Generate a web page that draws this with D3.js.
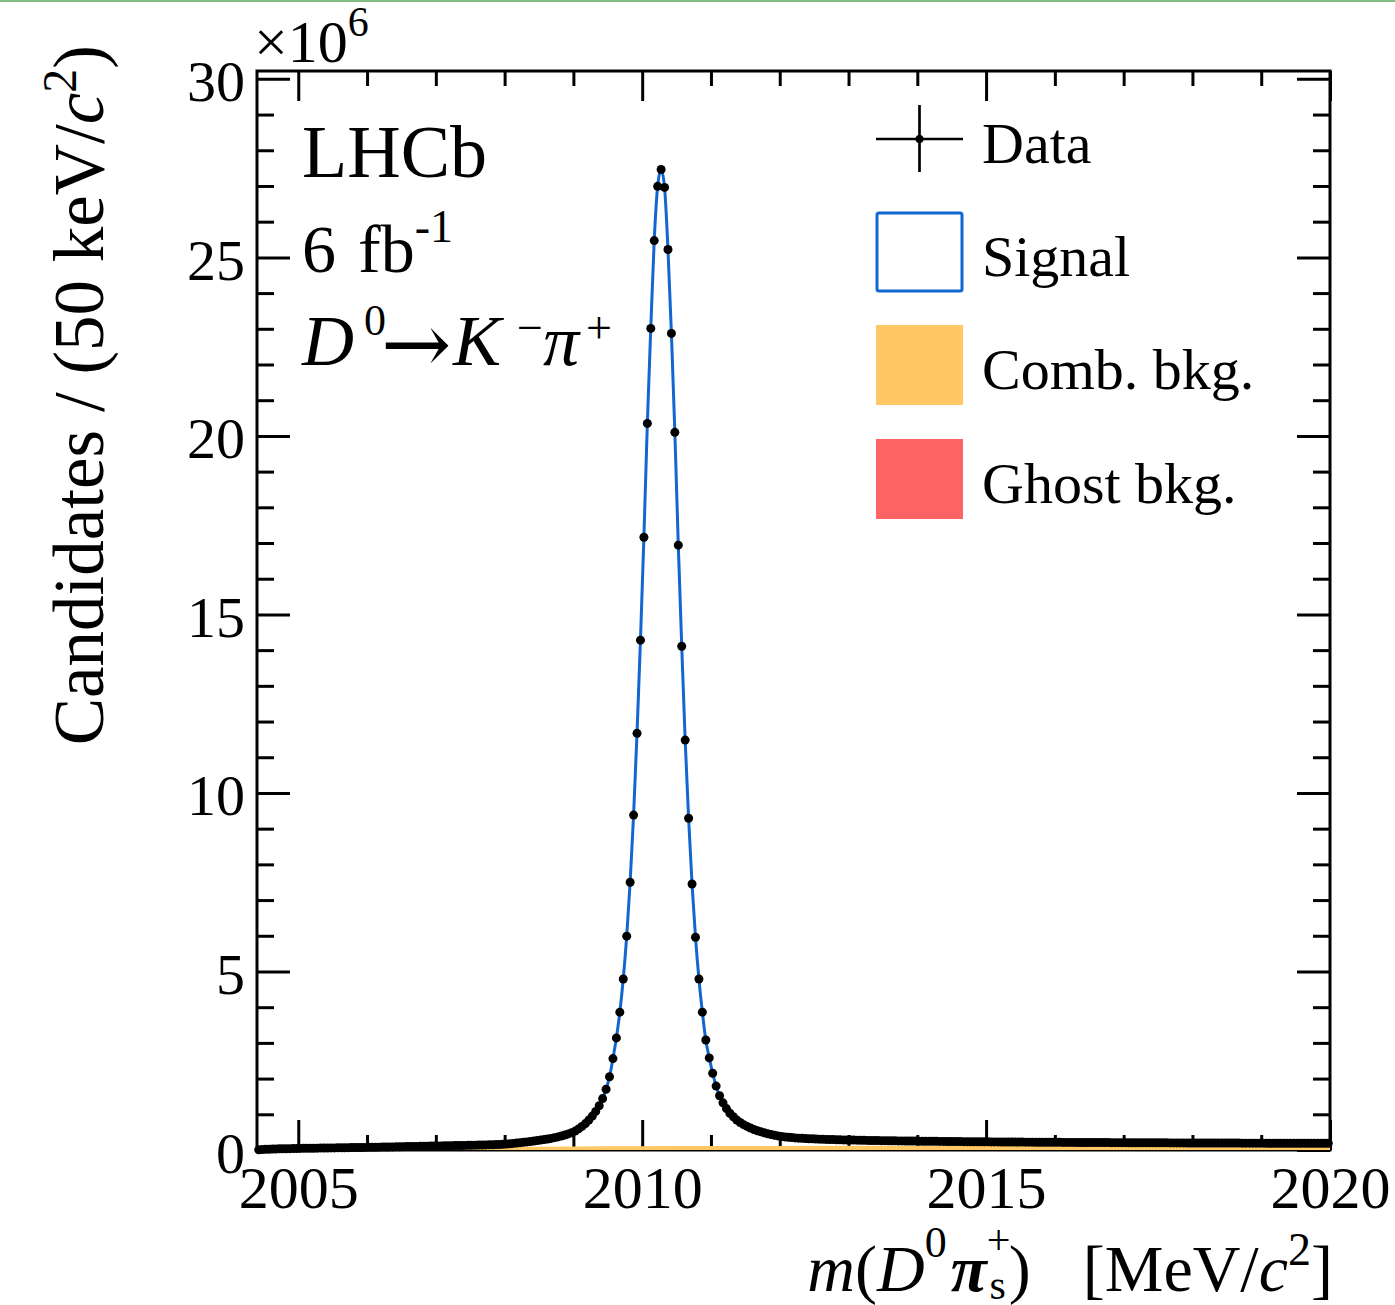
<!DOCTYPE html>
<html>
<head>
<meta charset="utf-8">
<script src="https://cdn.jsdelivr.net/npm/d3@7"></script>
<style>
  body { margin: 0; background: white; }
  svg { display: block; }
  text { font-family: "Liberation Serif", "Times New Roman", serif; fill: black; }
</style>
</head>
<body>
<svg class="mass-plot"></svg>
<script>
const width = 1395;
const height = 1305;
const frame = { left: 257, right: 1330, top: 71, bottom: 1150 };

// m(D0 pi_s+) binning: 50 keV bins starting at threshold
const massLow = 2004.4;
const massHigh = 2020.0;
const binWidth = 0.05;

// candidates per bin, in units of 1e6
const candidates = [
  0.005, 0.012, 0.018, 0.022, 0.026, 0.029, 0.032, 0.034, 0.036, 0.038, 0.040,
  0.042, 0.044, 0.046, 0.047, 0.049, 0.050, 0.052, 0.053, 0.055, 0.056,
  0.058, 0.059, 0.061, 0.062, 0.064, 0.065, 0.067, 0.068, 0.070, 0.071,
  0.073, 0.074, 0.076, 0.078, 0.079, 0.081, 0.083, 0.085, 0.087, 0.089,
  0.091, 0.093, 0.095, 0.097, 0.099, 0.101, 0.103, 0.105, 0.107, 0.109,
  0.111, 0.113, 0.115, 0.117, 0.119, 0.121, 0.123, 0.125, 0.127, 0.129,
  0.131, 0.133, 0.135, 0.137, 0.139, 0.142, 0.145, 0.148, 0.151, 0.155,
  0.159, 0.167, 0.175, 0.185, 0.195, 0.205, 0.215, 0.226, 0.238, 0.250,
  0.263, 0.277, 0.292, 0.308, 0.325, 0.345, 0.367, 0.392, 0.420, 0.450,
  0.484, 0.530, 0.590, 0.660, 0.740, 0.840, 0.950, 1.080, 1.240, 1.440,
  1.700, 2.050, 2.560, 3.140, 3.860, 4.790, 5.990, 7.500, 9.380, 11.67,
  14.28, 17.16, 20.35, 23.01, 25.47, 26.99, 27.46, 26.96, 25.22, 22.87,
  20.10, 16.94, 14.11, 11.48, 9.290, 7.450, 5.960, 4.790, 3.860, 3.080,
  2.580, 2.150, 1.790, 1.520, 1.320, 1.160, 1.030, 0.930, 0.840, 0.770,
  0.710, 0.660, 0.615, 0.575, 0.540, 0.508, 0.480, 0.455, 0.432, 0.412,
  0.395, 0.380, 0.367, 0.356, 0.347, 0.339, 0.332, 0.326, 0.320, 0.315,
  0.312, 0.308, 0.304, 0.300, 0.297, 0.294, 0.291, 0.288, 0.285, 0.283,
  0.281, 0.279, 0.277, 0.275, 0.273, 0.271, 0.269, 0.267, 0.266, 0.264,
  0.262, 0.261, 0.259, 0.258, 0.256, 0.255, 0.254, 0.252, 0.251, 0.250,
  0.249, 0.247, 0.246, 0.245, 0.244, 0.243, 0.242, 0.241, 0.240, 0.239,
  0.238, 0.237, 0.236, 0.235, 0.234, 0.233, 0.232, 0.231, 0.230, 0.229,
  0.229, 0.228, 0.227, 0.226, 0.226, 0.225, 0.224, 0.223, 0.223, 0.222,
  0.221, 0.221, 0.220, 0.219, 0.219, 0.218, 0.217, 0.217, 0.216, 0.216,
  0.215, 0.214, 0.214, 0.213, 0.213, 0.212, 0.212, 0.211, 0.211, 0.210,
  0.210, 0.209, 0.209, 0.208, 0.208, 0.207, 0.207, 0.206, 0.206, 0.205,
  0.205, 0.205, 0.204, 0.204, 0.203, 0.203, 0.202, 0.202, 0.202, 0.201,
  0.201, 0.200, 0.200, 0.200, 0.199, 0.199, 0.198, 0.198, 0.198, 0.197,
  0.197, 0.197, 0.196, 0.196, 0.196, 0.195, 0.195, 0.195, 0.194, 0.194,
  0.194, 0.193, 0.193, 0.193, 0.193, 0.192, 0.192, 0.192, 0.191, 0.191,
  0.191, 0.191, 0.190, 0.190, 0.190, 0.190, 0.189, 0.189, 0.189, 0.189,
  0.188, 0.188, 0.188, 0.188, 0.187, 0.187, 0.187, 0.187, 0.187, 0.186, 0.186
];

// background components (1e6 / bin)
const bkgMass = [2004.4, 2004.6, 2005, 2006, 2007, 2008, 2009, 2010, 2011, 2012, 2014, 2016, 2018, 2020];
const combBkg = [0, 0.020, 0.035, 0.058, 0.075, 0.087, 0.096, 0.103, 0.108, 0.112, 0.117, 0.121, 0.124, 0.126];
const ghostBkg = [0, 0.001, 0.001, 0.002, 0.002, 0.002, 0.003, 0.003, 0.003, 0.003, 0.003, 0.003, 0.003, 0.003];

const xMajor = [2005, 2010, 2015, 2020];
const yMajor = [0, 5, 10, 15, 20, 25, 30];
const legendLabels = ["Data", "Signal", "Comb. bkg.", "Ghost bkg."];

const signalColor = "#1266d0";
const combColor = "#ffc864";
const ghostColor = "#ff6464";

const svg = d3.select("svg.mass-plot").attr("width", width).attr("height", height);

svg.append("rect").attr("width", width).attr("height", height).attr("fill", "white");
svg.append("rect").attr("width", width).attr("height", 2).attr("fill", "#80bd80");

const x = d3.scaleLinear().domain([massLow, massHigh]).range([frame.left, frame.right]);
const y = d3.scaleLinear().domain([0, 30.22]).range([frame.bottom, frame.top]);

const points = candidates.map((v, i) => ({ m: massLow + (i + 0.5) * binWidth, v }));
const bkg = bkgMass.map((m, i) => ({ m, ghost: ghostBkg[i], comb: combBkg[i] }));

// axes: ticks point inwards on all four sides
function styleAxis(g) {
  g.select(".domain").remove();
  g.selectAll("line").attr("stroke", "black").attr("stroke-width", 3);
  g.attr("font-family", null).attr("font-size", null);
}

const xMinor = d3.range(2005, 2021).filter((v) => !xMajor.includes(v));
const yMinor = d3.range(1, 31).filter((v) => !yMajor.includes(v));

svg.append("g").attr("transform", `translate(0,${frame.bottom})`)
  .call(d3.axisBottom(x).tickValues(xMajor).tickSizeInner(-30).tickSizeOuter(0).tickFormat(d3.format("d")))
  .call(styleAxis)
  .call((g) => g.selectAll("text").attr("y", 58).attr("dy", null).attr("font-size", 60));
svg.append("g").attr("transform", `translate(0,${frame.bottom})`)
  .call(d3.axisBottom(x).tickValues(xMinor).tickSizeInner(-15).tickSizeOuter(0).tickFormat(""))
  .call(styleAxis);
svg.append("g").attr("transform", `translate(0,${frame.top})`)
  .call(d3.axisTop(x).tickValues(xMajor).tickSizeInner(-30).tickSizeOuter(0).tickFormat(""))
  .call(styleAxis);
svg.append("g").attr("transform", `translate(0,${frame.top})`)
  .call(d3.axisTop(x).tickValues(xMinor).tickSizeInner(-15).tickSizeOuter(0).tickFormat(""))
  .call(styleAxis);

svg.append("g").attr("transform", `translate(${frame.left},0)`)
  .call(d3.axisLeft(y).tickValues(yMajor).tickSizeInner(-33).tickSizeOuter(0).tickFormat(d3.format("d")))
  .call(styleAxis)
  .call((g) => g.selectAll("text").attr("x", -12).attr("dy", "0.38em").attr("font-size", 58));
svg.append("g").attr("transform", `translate(${frame.left},0)`)
  .call(d3.axisLeft(y).tickValues(yMinor).tickSizeInner(-17).tickSizeOuter(0).tickFormat(""))
  .call(styleAxis);
svg.append("g").attr("transform", `translate(${frame.right},0)`)
  .call(d3.axisRight(y).tickValues(yMajor).tickSizeInner(-33).tickSizeOuter(0).tickFormat(""))
  .call(styleAxis);
svg.append("g").attr("transform", `translate(${frame.right},0)`)
  .call(d3.axisRight(y).tickValues(yMinor).tickSizeInner(-17).tickSizeOuter(0).tickFormat(""))
  .call(styleAxis);

svg.append("rect")
  .attr("x", frame.left).attr("y", frame.top)
  .attr("width", frame.right - frame.left).attr("height", frame.bottom - frame.top)
  .attr("fill", "none").attr("stroke", "black").attr("stroke-width", 3);

// stacked backgrounds, drawn over the frame like the original
const plot = svg.append("g").attr("class", "plot");
plot.append("path")
  .datum(bkg)
  .attr("fill", combColor)
  .attr("d", d3.area().curve(d3.curveMonotoneX)
    .x((d) => x(d.m))
    .y0((d) => y(d.ghost))
    .y1((d) => y(d.ghost + d.comb)));
plot.append("path")
  .datum(bkg)
  .attr("fill", ghostColor)
  .attr("d", d3.area().curve(d3.curveMonotoneX)
    .x((d) => x(d.m))
    .y0(y(0))
    .y1((d) => y(d.ghost)));

// signal fit line
plot.append("path")
  .datum(points)
  .attr("fill", "none")
  .attr("stroke", signalColor)
  .attr("stroke-width", 3)
  .attr("d", d3.line().curve(d3.curveMonotoneX).x((d) => x(d.m)).y((d) => y(d.v)));

// data points
plot.selectAll("circle.data")
  .data(points)
  .join("circle")
  .attr("class", "data")
  .attr("cx", (d) => x(d.m))
  .attr("cy", (d) => y(d.v))
  .attr("r", 4.5)
  .attr("fill", "black");

// exponent
const expo = svg.append("text").attr("x", 254).attr("y", 62).attr("font-size", 60);
expo.append("tspan").text("\u00d710");
expo.append("tspan").attr("dy", -26).attr("font-size", 42).text("6");

// experiment labels
svg.append("text").attr("x", 302).attr("y", 177).attr("font-size", 74).text("LHCb");
const lumi = svg.append("text").attr("y", 272).attr("font-size", 68);
lumi.append("tspan").attr("x", 302).text("6");
lumi.append("tspan").attr("x", 358).text("fb");
lumi.append("tspan").attr("dy", -30).attr("font-size", 46).text("-1");

const decay = svg.append("text").attr("y", 365).attr("font-size", 72);
decay.append("tspan").attr("x", 302).attr("font-style", "italic").text("D");
decay.append("tspan").attr("x", 364).attr("dy", -30).attr("font-size", 44).text("0");
decay.append("tspan").attr("x", 381).attr("dy", 38)
  .attr("font-family", "DejaVu Serif").attr("font-size", 84).text("\u2192");
decay.append("tspan").attr("x", 453).attr("dy", -8).attr("font-style", "italic").text("K");
decay.append("tspan").attr("x", 517).attr("dy", -22).attr("font-size", 46).text("\u2212");
decay.append("tspan").attr("x", 543).attr("dy", 22).attr("font-style", "italic").text("\u03c0");
decay.append("tspan").attr("x", 586).attr("dy", -22).attr("font-size", 46).text("+");

// axis titles
const yTitle = svg.append("text")
  .attr("transform", "translate(103,45) rotate(-90)")
  .attr("text-anchor", "end")
  .attr("font-size", 71);
yTitle.append("tspan").text("Candidates / (50 keV/");
yTitle.append("tspan").attr("font-style", "italic").text("c");
yTitle.append("tspan").attr("dy", -27).attr("font-size", 48).text("2");
yTitle.append("tspan").attr("dy", 27).text(")");

const xTitle = svg.append("text")
  .attr("x", 1333).attr("y", 1291)
  .attr("text-anchor", "end")
  .attr("font-size", 66);
xTitle.append("tspan").attr("font-style", "italic").text("m");
xTitle.append("tspan").text("(");
xTitle.append("tspan").attr("font-style", "italic").text("D");
xTitle.append("tspan").attr("dy", -34).attr("font-size", 44).text("0");
xTitle.append("tspan").attr("dy", 34).attr("dx", 4).attr("font-style", "italic").attr("font-weight", "bold").text("\u03c0");
xTitle.append("tspan").attr("dy", -37).attr("font-size", 42).text("+");
xTitle.append("tspan").attr("dy", 45).attr("dx", -21).attr("font-size", 42).text("s");
xTitle.append("tspan").attr("dy", -8).attr("dx", 3).text(")");
xTitle.append("tspan").attr("dx", 52).text("[MeV/");
xTitle.append("tspan").attr("font-style", "italic").text("c");
xTitle.append("tspan").attr("dy", -26).attr("font-size", 46).text("2");
xTitle.append("tspan").attr("dy", 26).text("]");

// legend
const legend = svg.append("g").attr("class", "legend");
const rowY = [139, 252, 365, 479];
legend.selectAll("text")
  .data(legendLabels)
  .join("text")
  .attr("x", 982)
  .attr("y", (d, i) => rowY[i] + 24)
  .attr("font-size", 58)
  .text((d) => d);

legend.append("line").attr("x1", 876).attr("x2", 963).attr("y1", rowY[0]).attr("y2", rowY[0])
  .attr("stroke", "black").attr("stroke-width", 2.7);
legend.append("line").attr("x1", 919.5).attr("x2", 919.5).attr("y1", 105).attr("y2", 172)
  .attr("stroke", "black").attr("stroke-width", 2.7);
legend.append("circle").attr("cx", 919.5).attr("cy", rowY[0]).attr("r", 4).attr("fill", "black");

legend.append("rect").attr("x", 877).attr("y", rowY[1] - 39).attr("width", 85).attr("height", 78)
  .attr("rx", 2).attr("fill", "white").attr("stroke", signalColor).attr("stroke-width", 3);
legend.append("rect").attr("x", 876).attr("y", rowY[2] - 40).attr("width", 87).attr("height", 80)
  .attr("fill", combColor);
legend.append("rect").attr("x", 876).attr("y", rowY[3] - 40).attr("width", 87).attr("height", 80)
  .attr("fill", ghostColor);
</script>
</body>
</html>
